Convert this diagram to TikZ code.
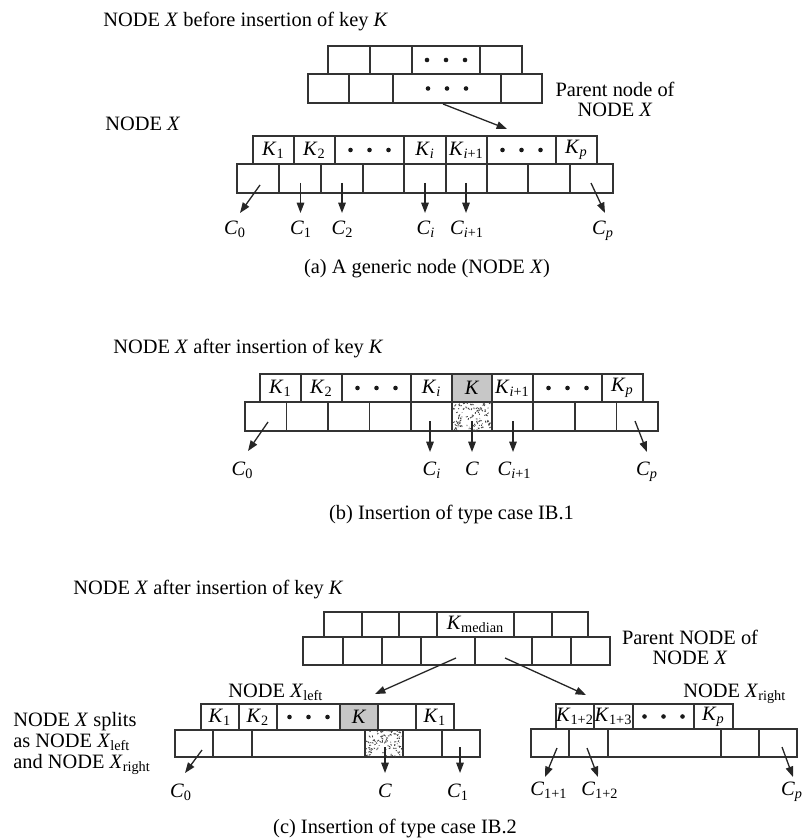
\documentclass[tikz,border=0pt]{standalone}
\usepackage{fontspec}
\setmainfont{Liberation Serif}
\usetikzlibrary{arrows.meta}
\newcommand\mycell[7]{\node[bx,#6,minimum width={(#3-#2)*0.5pt},minimum height={(#5-#4)*0.5pt}] (#1) at ({(#2+#3)/2},{(#4+#5)/2}) {#7};}
\newcommand\tdots[1]{\foreach \k in {-1,0,1} {\fill[black!90] ([xshift=\k*9.5pt]#1.center) circle (1.15pt);}}
\newcommand\stip[3]{\begin{scope}\clip (#1.south west) rectangle (#1.north east);
 \foreach \i in {1,...,110} {\draw[black!75,line width=0.4pt] ([xshift={rnd*#2},yshift={rnd*#3}]#1.south west) -- ++({(rnd-0.5)*2pt},{(rnd-0.5)*2pt});}
 \end{scope}}
\newcommand\keyK[1]{\textit{K}\textsubscript{#1}}
\newcommand\ptrC[1]{\textit{C}\textsubscript{#1}}
\begin{document}
\begin{tikzpicture}[x=0.5pt,y=-0.5pt,font=\fontsize{10.2pt}{12pt}\selectfont,
  bx/.style={draw=black!80,line width=0.65pt,inner sep=0pt,outer sep=0pt},
  keyg/.style={fill=black!22},
  arr/.style={draw=black!85,line width=0.65pt,-{Triangle[length=5.2pt,width=3.8pt]}},
  lab/.style={inner sep=0pt,anchor=base},
  txt/.style={inner sep=0pt,anchor=base west}]
\useasboundingbox (0,0) rectangle (803,838);
\pgfmathsetseed{17}

% ================= (a) =================
\node[txt] (a-title) at (103,27) {NODE \textit{X} before insertion of key \textit{K}};
\node[txt] (a-nodex) at (105,131) {NODE \textit{X}};
\node[lab] (a-par1) at (615,97) {Parent node of};
\node[lab] (a-par2) at (615,117) {NODE \textit{X}};
% parent node
\mycell{a-u1}{328}{370}{46}{74}{}{}
\mycell{a-u2}{370}{412}{46}{74}{}{}
\mycell{a-u3}{412}{480}{46}{74}{}{}
\mycell{a-u4}{480}{522}{46}{74}{}{}
\mycell{a-l1}{308}{349}{74}{103}{}{}
\mycell{a-l2}{349}{393}{74}{103}{}{}
\mycell{a-l3}{393}{501}{74}{103}{}{}
\mycell{a-l4}{501}{542}{74}{103}{}{}
\tdots{a-u3}\tdots{a-l3}
% keys
\mycell{a-k1}{253}{294}{136}{164}{}{\keyK{1}}
\mycell{a-k2}{294}{335}{136}{164}{}{\keyK{2}}
\mycell{a-k3}{335}{404}{136}{164}{}{}
\mycell{a-k4}{404}{446}{136}{164}{}{\keyK{\textit{i}}}
\mycell{a-k5}{446}{487}{136}{164}{}{\keyK{\textit{i}+1}}
\mycell{a-k6}{487}{556}{136}{164}{}{}
\mycell{a-k7}{556}{597}{136}{164}{}{\keyK{\textit{p}}}
\tdots{a-k3}\tdots{a-k6}
% pointers
\foreach \l/\r [count=\n] in {237/279,279/321,321/363,363/404,404/446,446/487,487/528,528/570,570/613}
  {\mycell{a-p\n}{\l}{\r}{164}{193}{}{}}
% arrow from parent
\coordinate (a-ps) at (443,104);
\coordinate (a-pe) at (507,129);
\draw[arr] (a-ps) -- (a-pe);
% child arrows
\coordinate (a-s0) at (260,185); \coordinate (a-e0) at (240,213);
\coordinate (a-s1) at (300.5,183); \coordinate (a-e1) at (300.5,213);
\coordinate (a-s2) at (342,183); \coordinate (a-e2) at (342,213);
\coordinate (a-s3) at (425,183); \coordinate (a-e3) at (425,213);
\coordinate (a-s4) at (466,183); \coordinate (a-e4) at (466,213);
\coordinate (a-s5) at (591,183); \coordinate (a-e5) at (605,213);
\foreach \n in {0,...,5} {\draw[arr] (a-s\n) -- (a-e\n);}
\node[lab] (a-C0) at (235,235) {\ptrC{0}};
\node[lab] (a-C1) at (301,235) {\ptrC{1}};
\node[lab] (a-C2) at (342.5,235) {\ptrC{2}};
\node[lab] (a-Ci) at (426,235) {\ptrC{\textit{i}}};
\node[lab] (a-Ci1) at (467,235) {\ptrC{\textit{i}+1}};
\node[lab] (a-Cp) at (603,235) {\ptrC{\textit{p}}};
\node[lab] (a-cap) at (427,274) {(a) A generic node (NODE \textit{X})};

% ================= (b) =================
\node[txt] (b-title) at (113,354) {NODE \textit{X} after insertion of key \textit{K}};
\mycell{b-k1}{260}{301}{374}{402}{}{\keyK{1}}
\mycell{b-k2}{301}{342}{374}{402}{}{\keyK{2}}
\mycell{b-k3}{342}{411}{374}{402}{}{}
\mycell{b-k4}{411}{452}{374}{402}{}{\keyK{\textit{i}}}
\mycell{b-k5}{452}{492}{374}{402}{keyg}{\textit{K}}
\mycell{b-k6}{492}{533}{374}{402}{}{\keyK{\textit{i}+1}}
\mycell{b-k7}{533}{602}{374}{402}{}{}
\mycell{b-k8}{602}{643}{374}{402}{}{\keyK{\textit{p}}}
\tdots{b-k3}\tdots{b-k7}
\foreach \l/\r [count=\n] in {245/286.5,286.5/328,328/369.5,369.5/411,411/452,452/492,492/533,533/575,575/616.5,616.5/658}
  {\mycell{b-p\n}{\l}{\r}{402}{431}{}{}}
\stip{b-p6}{20pt}{14.5pt}
\coordinate (b-s0) at (268,422); \coordinate (b-e0) at (248,451);
\coordinate (b-s1) at (430,421); \coordinate (b-e1) at (430,452);
\coordinate (b-s2) at (472,421); \coordinate (b-e2) at (472,452);
\coordinate (b-s3) at (513,421); \coordinate (b-e3) at (513,452);
\coordinate (b-s4) at (635,421); \coordinate (b-e4) at (647,452);
\foreach \n in {0,...,4} {\draw[arr] (b-s\n) -- (b-e\n);}
\node[lab] (b-C0) at (242.5,475) {\ptrC{0}};
\node[lab] (b-Ci) at (432,475) {\ptrC{\textit{i}}};
\node[lab] (b-C) at (472,475) {\textit{C}};
\node[lab] (b-Ci1) at (514.5,475) {\ptrC{\textit{i}+1}};
\node[lab] (b-Cp) at (647,475) {\ptrC{\textit{p}}};
\node[lab] (b-cap) at (451.5,519) {(b) Insertion of type case IB.1};

% ================= (c) =================
\node[txt] (c-title) at (73,594) {NODE \textit{X} after insertion of key \textit{K}};
\node[lab] (c-par1) at (690,644) {Parent NODE of};
\node[lab] (c-par2) at (690,664) {NODE \textit{X}};
\mycell{c-u1}{324}{362}{612}{637}{}{}
\mycell{c-u2}{362}{399}{612}{637}{}{}
\mycell{c-u3}{399}{437}{612}{637}{}{}
\mycell{c-u4}{437}{514}{612}{637}{}{\keyK{median}}
\mycell{c-u5}{514}{552}{612}{637}{}{}
\mycell{c-u6}{552}{588}{612}{637}{}{}
\foreach \l/\r [count=\n] in {303/343,343/382,382/421,421/475,475/532,532/571,571/610}
  {\mycell{c-l\n}{\l}{\r}{637}{665}{}{}}
\coordinate (c-ls) at (456,658); \coordinate (c-le) at (375,694);
\coordinate (c-rs) at (505,658); \coordinate (c-re) at (586,695);
\draw[arr] (c-ls) -- (c-le);
\draw[arr] (c-rs) -- (c-re);
% left node
\node[txt] (c-xl) at (228,697) {NODE \textit{X}\textsubscript{left}};
\mycell{c-k1}{201}{239}{704}{730}{}{\keyK{1}}
\mycell{c-k2}{239}{277}{704}{730}{}{\keyK{2}}
\mycell{c-k3}{277}{340}{704}{730}{}{}
\mycell{c-k4}{340}{378}{704}{730}{keyg}{\textit{K}}
\mycell{c-k5}{378}{416}{704}{730}{}{}
\mycell{c-k6}{416}{454}{704}{730}{}{\keyK{1}}
\tdots{c-k3}
\foreach \l/\r [count=\n] in {175/213,213/252,252/365,365/403,403/442,442/480}
  {\mycell{c-p\n}{\l}{\r}{730}{757}{}{}}
\stip{c-p4}{19pt}{13.5pt}
\coordinate (c-s0) at (202,750); \coordinate (c-e0) at (185,773);
\coordinate (c-s1) at (385,747); \coordinate (c-e1) at (385,773);
\coordinate (c-s2) at (460,747); \coordinate (c-e2) at (460,773);
\foreach \n in {0,1,2} {\draw[arr] (c-s\n) -- (c-e\n);}
\node[lab] (c-C0) at (181,797) {\ptrC{0}};
\node[lab] (c-C) at (385,797) {\textit{C}};
\node[lab] (c-C1) at (458,797) {\ptrC{1}};
% right node
\node[txt] (c-xr) at (683,697) {NODE \textit{X}\textsubscript{right}};
\mycell{c-rk1}{556}{594}{704}{729}{}{\keyK{1+2}}
\mycell{c-rk2}{594}{633}{704}{729}{}{\keyK{1+3}}
\mycell{c-rk3}{633}{694}{704}{729}{}{}
\mycell{c-rk4}{694}{733}{704}{729}{}{\keyK{\textit{p}}}
\tdots{c-rk3}
\foreach \l/\r [count=\n] in {531/569,569/608,608/721,721/759,759/797}
  {\mycell{c-rp\n}{\l}{\r}{729}{757}{}{}}
\coordinate (c-rs0) at (557,748); \coordinate (c-re0) at (545,777);
\coordinate (c-rs1) at (587,748); \coordinate (c-re1) at (598,777);
\coordinate (c-rs2) at (782,747); \coordinate (c-re2) at (793,777);
\foreach \n in {0,1,2} {\draw[arr] (c-rs\n) -- (c-re\n);}
\node[lab] (c-rC1) at (549,795) {\ptrC{1+1}};
\node[lab] (c-rC2) at (600,795) {\ptrC{1+2}};
\node[lab] (c-rCp) at (792,795) {\ptrC{\textit{p}}};
% side text
\node[txt] (c-side1) at (13,726) {NODE \textit{X} splits};
\node[txt] (c-side2) at (13,747) {as NODE \textit{X}\textsubscript{left}};
\node[txt] (c-side3) at (13,768) {and NODE \textit{X}\textsubscript{right}};
\node[lab] (c-cap) at (395,833) {(c) Insertion of type case IB.2};
\end{tikzpicture}
\end{document}
